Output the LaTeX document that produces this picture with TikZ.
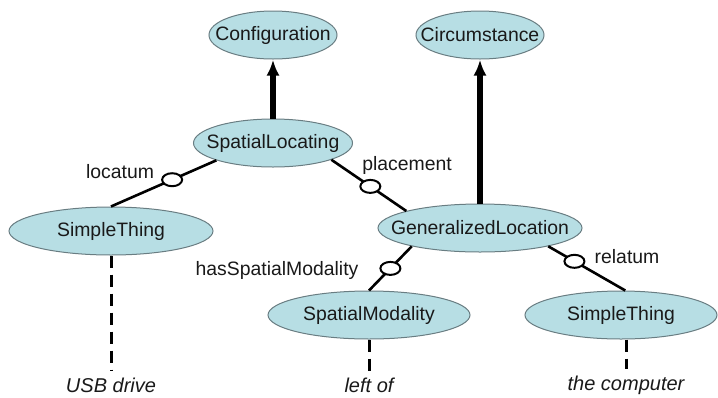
\documentclass[tikz,border=0pt]{standalone}
\usepackage{fontspec}
\setmainfont{Liberation Sans}
\usetikzlibrary{arrows.meta,shapes}
\definecolor{conceptfill}{RGB}{183,222,228}
\definecolor{conceptline}{RGB}{105,125,130}
\definecolor{textdark}{RGB}{25,25,25}
\newcommand{\cname}[1]{\makebox[0pt]{#1}}
\tikzset{
  >={Latex[length=8pt,width=6.5pt]},
  {concept/.style} ={ellipse,draw=conceptline,fill=conceptfill,line width=.5pt,
                     inner sep=0pt,minimum height=24pt,minimum width=#1,
                     text=textdark},
  concept/.default = 100pt,
  {ring/.style} ={ellipse,draw,fill=white,line width=1pt,inner sep=0pt,
                  minimum width=10pt,minimum height=6.5pt},
  {rel/.style} ={draw,line width=1.3pt},
  {isa/.style} ={draw,line width=2.6pt,->},
  {ref/.style} ={draw,line width=1.5pt,dash pattern=on 6pt off 3.5pt},
  {lbl/.style} ={text=textdark,inner sep=0pt},
  {inst/.style} ={text=textdark,font=\itshape,inner sep=3pt},
}
\begin{document}
\begin{tikzpicture}[x=0.5pt,y=-0.5pt,font=\fontsize{9.7}{11}\selectfont]
\useasboundingbox (0,0) rectangle (718,397);

\node[concept=64pt] (config) at (273,35) {\cname{Configuration}};
\node[concept=64pt] (circ) at (480,35) {\cname{Circumstance}};
\node[concept=79.5pt] (spatloc) at (273,143) {\cname{SpatialLocating}};
\node[concept=102pt] (simpL) at (111,231) {\cname{SimpleThing}};
\node[concept=102pt] (genloc) at (480,228) {\cname{GeneralizedLocation}};
\node[concept=101pt] (spatmod) at (369,315) {\cname{SpatialModality}};
\node[concept=96pt] (simpR) at (621,315) {\cname{SimpleThing}};

% subsumption
\draw[isa] (spatloc.north) -- (config.south);
\draw[isa] (genloc.north) -- (circ.south);

% roles
\draw[rel] (spatloc.197) -- node[ring,pos=.42] (rloc) {} (simpL.north);
\draw[rel] (spatloc.344) -- node[ring,pos=.52] (rplace) {} (genloc.167);
\draw[rel] (genloc.195) -- node[ring,pos=.5] (rmod) {} (spatmod.north);
\draw[rel] (genloc.345) -- node[ring,pos=.34] (rrel) {} (simpR.80);

\node[lbl] (locatum) at (120,172) {locatum};
\node[lbl] (placement) at (407,165) {placement};
\node[lbl] (hasmod) at (277,270) {hasSpatialModality};
\node[lbl] (relatum) at (627,257) {relatum};

% words
\node[inst] (usb) at (111,385) {USB drive};
\node[inst] (leftof) at (369,385) {left of};
\node[inst] (computer) at (626,385) {the computer};
\draw[ref] (simpL.south) -- (usb.north);
\draw[ref] (spatmod.south) -- (leftof.north);
\draw[ref] (computer.north |- simpR.south) -- (computer.north);
\end{tikzpicture}
\end{document}
